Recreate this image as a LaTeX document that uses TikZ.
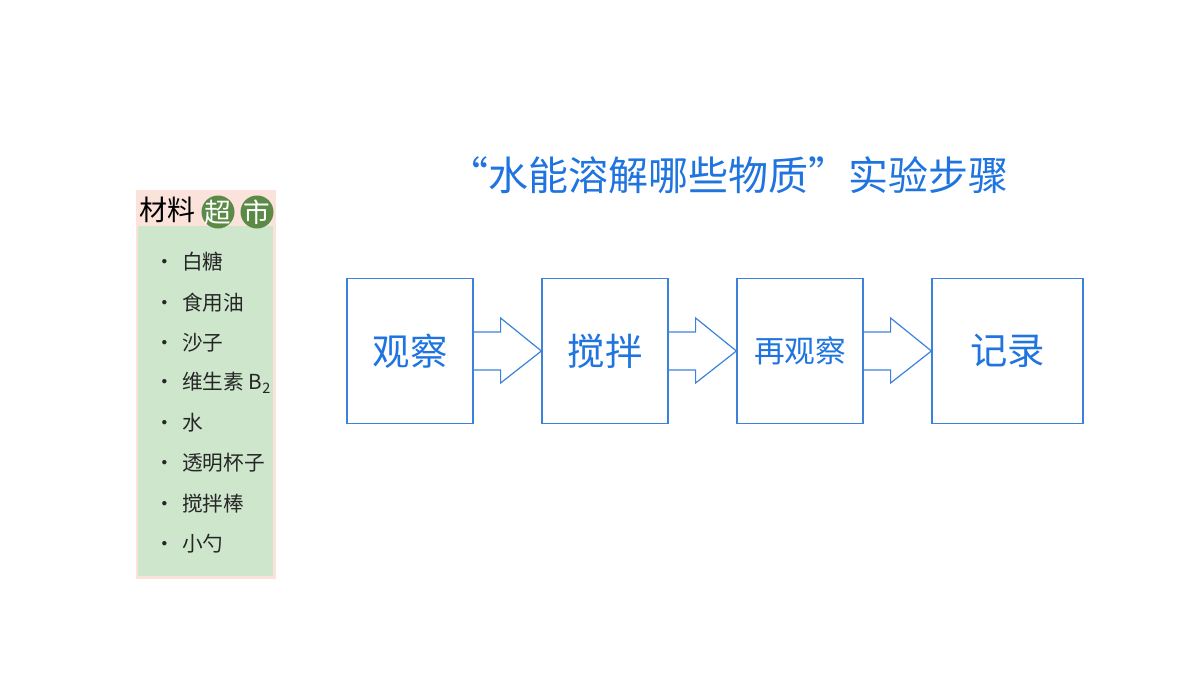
\documentclass[tikz,border=0pt]{standalone}
\usepackage{fontspec}
\setmainfont{Noto Sans CJK SC}
\usetikzlibrary{calc}
\definecolor{blu}{HTML}{1F74E0}
\definecolor{bord}{HTML}{3C82DC}
\definecolor{grn}{HTML}{CDE6CC}
\definecolor{pnk}{HTML}{FBE3DC}
\definecolor{dg}{HTML}{5A8A45}
\begin{document}
\begin{tikzpicture}[x=0.75pt,y=-0.75pt,
  stepbox/.style={draw=bord,line width=0.9pt,minimum width=126*0.75pt,minimum height=145*0.75pt,inner sep=0pt,text=blu,font=\fontsize{28}{30}\selectfont},
  item/.style={anchor=west,font=\fontsize{15.5}{17}\selectfont,text=black!85,inner sep=0pt}]
\useasboundingbox (0,0) rectangle (1200,675);
\node[text=blu,font=\fontsize{30}{32}\selectfont] (title) at (728,175) {“水能溶解哪些物质”实验步骤};
% panel
\fill[pnk] (136,190) rectangle (276,579);
\fill[grn] (138,226) rectangle (273,576);
\node[anchor=west,font=\fontsize{21}{22}\selectfont,inner sep=0pt] (h1) at (139,210) {材料};
\fill[dg] (218,212) circle (16.5);
\fill[dg] (257,212) circle (16.5);
\node[text=white,font=\fontsize{20}{22}\selectfont] (h2) at (218,212) {超};
\node[text=white,font=\fontsize{20}{22}\selectfont] (h3) at (257,212) {市};
\foreach \t [count=\i] in {白糖,食用油,沙子,{维生素 B\textsubscript{2}},水,透明杯子,搅拌棒,小勺}{
  \node[item] (it\i) at (154,{262+40.2*(\i-1)}) {·\hspace{0.35em}\t};
}
% steps
\node[stepbox] (s1) at (410,351) {观察};
\node[stepbox] (s2) at (605,351) {搅拌};
\node[stepbox,font=\fontsize{23}{26}\selectfont] (s3) at (800,351) {再观察};
\node[stepbox,minimum width=151*0.75pt] (s4) at (1007.5,351) {记录};
\foreach \a/\b in {s1/s2,s2/s3,s3/s4}{
  \draw[bord,line width=0.9pt] ($(\a.east)+(0,-19)$) -- ($(\a.east)+(27,-19)$) -- ($(\a.east)+(27,-33)$)
    -- (\b.west) -- ($(\a.east)+(27,32)$) -- ($(\a.east)+(27,19)$) -- ($(\a.east)+(0,19)$);
}
\end{tikzpicture}
\end{document}
